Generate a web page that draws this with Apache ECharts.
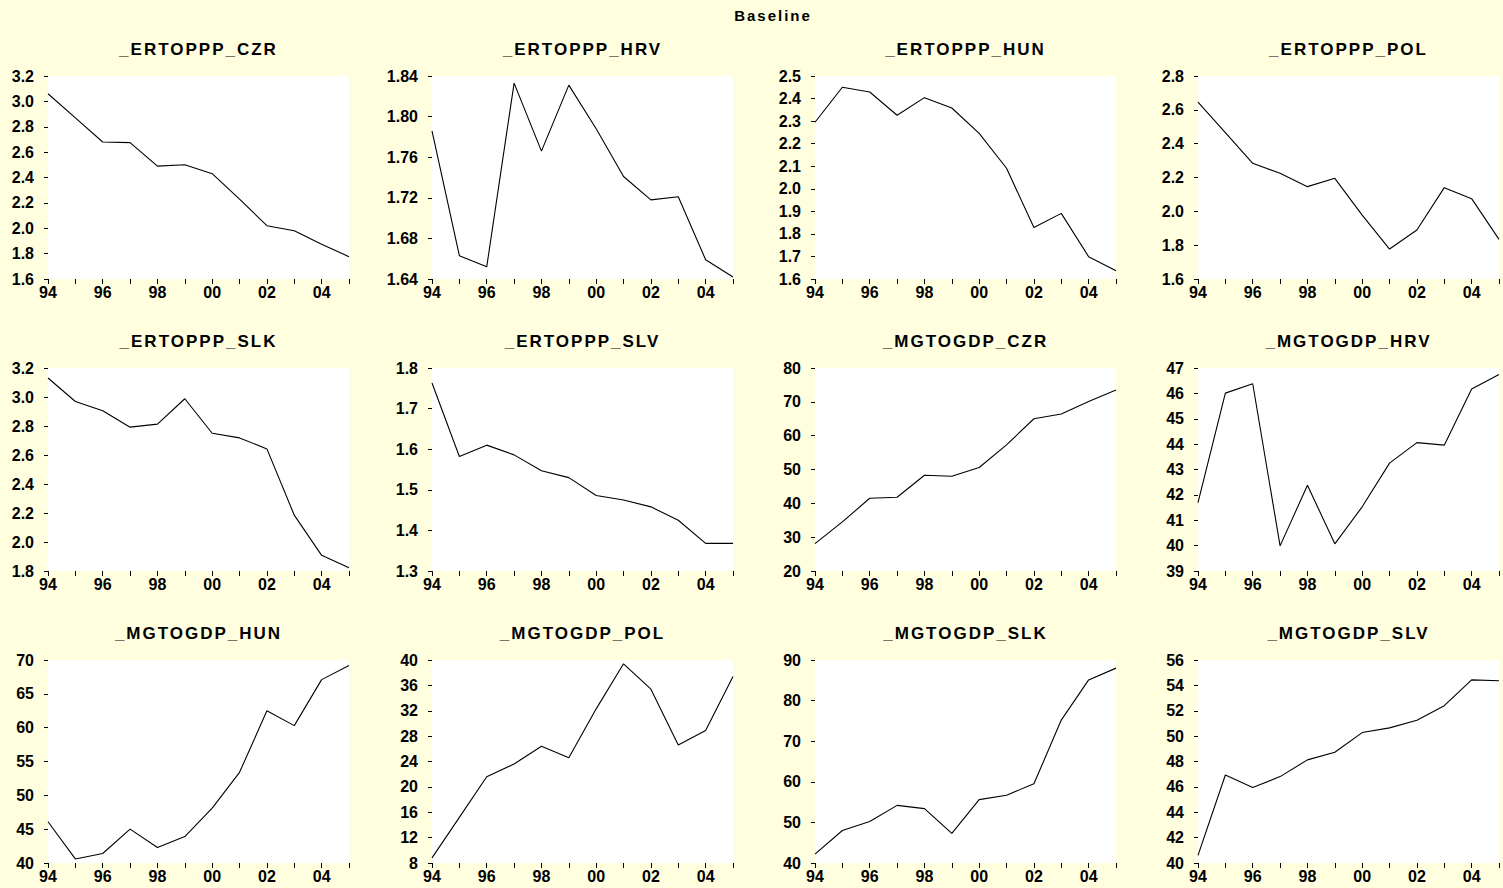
<!DOCTYPE html>
<html>
<head>
<meta charset="utf-8">
<title>Baseline</title>
<script src="https://cdn.jsdelivr.net/npm/echarts@6/dist/echarts.min.js"></script>
<style>
  html, body { margin: 0; padding: 0; background: #ffffe0; }
  #chart { width: 1503px; height: 888px; }
  /* wide tracking on the titles, as in the original EViews output */
  #chart svg text[style*="17px"] { letter-spacing: 2px; }
  #chart svg text[style*="15px"] { letter-spacing: 2px; }
</style>
</head>
<body>
<div id="chart"></div>
<script>
// Years on the x axis (1994-2005)
const years = ['94', '95', '96', '97', '98', '99', '00', '01', '02', '03', '04', '05'];

// Series, in panel order
const ertopppCZR = [3.06, 2.87, 2.68, 2.675, 2.49, 2.50, 2.43, 2.23, 2.02, 1.98, 1.873, 1.776];
const ertopppHRV = [1.786, 1.663, 1.652, 1.833, 1.766, 1.831, 1.788, 1.741, 1.718, 1.721, 1.659, 1.642];
const ertopppHUN = [2.295, 2.45, 2.429, 2.326, 2.404, 2.358, 2.246, 2.091, 1.828, 1.891, 1.699, 1.637];
const ertopppPOL = [2.646, 2.465, 2.284, 2.225, 2.146, 2.195, 1.978, 1.777, 1.89, 2.14, 2.075, 1.834];
const ertopppSLK = [3.131, 2.969, 2.905, 2.792, 2.813, 2.988, 2.75, 2.718, 2.642, 2.185, 1.908, 1.823];
const ertopppSLV = [1.763, 1.582, 1.61, 1.586, 1.547, 1.53, 1.486, 1.475, 1.458, 1.425, 1.368, 1.368];
const mgtogdpCZR = [28.1, 34.5, 41.5, 41.8, 48.3, 48.0, 50.6, 57.3, 65.0, 66.4, 70.1, 73.5];
const mgtogdpHRV = [41.69, 46.01, 46.38, 39.99, 42.38, 40.07, 41.53, 43.25, 44.06, 43.96, 46.17, 46.74];
const mgtogdpHUN = [46.1, 40.6, 41.4, 45.0, 42.3, 43.9, 48.1, 53.4, 62.5, 60.3, 67.1, 69.2];
const mgtogdpPOL = [8.8, 15.2, 21.6, 23.6, 26.4, 24.6, 32.3, 39.4, 35.4, 26.6, 28.9, 37.4];
const mgtogdpSLK = [42.2, 48.0, 50.2, 54.2, 53.4, 47.3, 55.6, 56.7, 59.5, 75.2, 85.1, 88.0];
const mgtogdpSLV = [40.6, 46.94, 45.95, 46.81, 48.13, 48.73, 50.28, 50.65, 51.25, 52.4, 54.43, 54.37];

const panelTitles = [
  '_ERTOPPP_CZR', '_ERTOPPP_HRV', '_ERTOPPP_HUN', '_ERTOPPP_POL',
  '_ERTOPPP_SLK', '_ERTOPPP_SLV', '_MGTOGDP_CZR', '_MGTOGDP_HRV',
  '_MGTOGDP_HUN', '_MGTOGDP_POL', '_MGTOGDP_SLK', '_MGTOGDP_SLV'
];
const panelSeries = [
  ertopppCZR, ertopppHRV, ertopppHUN, ertopppPOL,
  ertopppSLK, ertopppSLV, mgtogdpCZR, mgtogdpHRV,
  mgtogdpHUN, mgtogdpPOL, mgtogdpSLK, mgtogdpSLV
];

// Value-axis tick scales: [min, max, step]
const yTickMin = [1.6, 1.64, 1.6, 1.6, 1.8, 1.3, 20, 39, 40, 8, 40, 40];
const yTickMax = [3.2, 1.84, 2.5, 2.8, 3.2, 1.8, 80, 47, 70, 40, 90, 56];
const yTickStep = [0.2, 0.04, 0.1, 0.2, 0.2, 0.1, 10, 1, 5, 4, 10, 2];

// Panel layout
const colLeft = [48, 432, 815, 1198];
const rowTop = [76, 368, 660];
const plotW = 301;
const plotH = 203;
const FONT = '"Liberation Sans", Arial, sans-serif';

const grids = [], xAxes = [], yAxes = [], series = [], titles = [];

titles.push({
  text: 'Baseline',
  left: 768, top: 3, textAlign: 'center',
  textStyle: { fontFamily: FONT, fontWeight: 'bold', fontSize: 15, color: '#000' }
});

panelSeries.forEach((data, i) => {
  const r = Math.floor(i / 4), c = i % 4;
  const left = colLeft[c], top = rowTop[r];
  const step = yTickStep[i];
  const decimals = step < 0.1 ? 2 : (step < 1 ? 1 : 0);

  grids.push({
    left: left, top: top, width: plotW, height: plotH,
    show: true, backgroundColor: '#ffffff', borderWidth: 0, containLabel: false
  });

  titles.push({
    text: panelTitles[i],
    left: left + plotW / 2 - 5, top: top - 40,
    textAlign: 'center',
    textStyle: { fontFamily: FONT, fontWeight: 'bold', fontSize: 17, color: '#000' }
  });

  xAxes.push({
    gridIndex: i, type: 'category', data: years, boundaryGap: false,
    axisLine: { show: false },
    axisTick: { show: true, inside: false, length: 5, interval: 0, lineStyle: { color: '#000', width: 1 } },
    axisLabel: { interval: 1, margin: 5, fontFamily: FONT, fontWeight: 'bold', fontSize: 16, color: '#000' },
    splitLine: { show: false }
  });

  yAxes.push({
    gridIndex: i, type: 'value',
    min: yTickMin[i], max: yTickMax[i], interval: step,
    axisLine: { show: false },
    axisTick: { show: true, length: 4, lineStyle: { color: '#000', width: 1 } },
    axisLabel: {
      margin: 14, fontFamily: FONT, fontWeight: 'bold', fontSize: 16, color: '#000',
      formatter: v => Number(v).toFixed(decimals)
    },
    splitLine: { show: false }
  });

  series.push({
    type: 'line', xAxisIndex: i, yAxisIndex: i, data: data,
    symbol: 'none', smooth: false,
    lineStyle: { color: '#000', width: 1.1 },
    silent: true
  });
});

const chart = echarts.init(document.getElementById('chart'), null, { renderer: 'svg' });
chart.setOption({
  backgroundColor: '#ffffe0',
  animation: false,
  title: titles,
  grid: grids,
  xAxis: xAxes,
  yAxis: yAxes,
  series: series
});
</script>
</body>
</html>
